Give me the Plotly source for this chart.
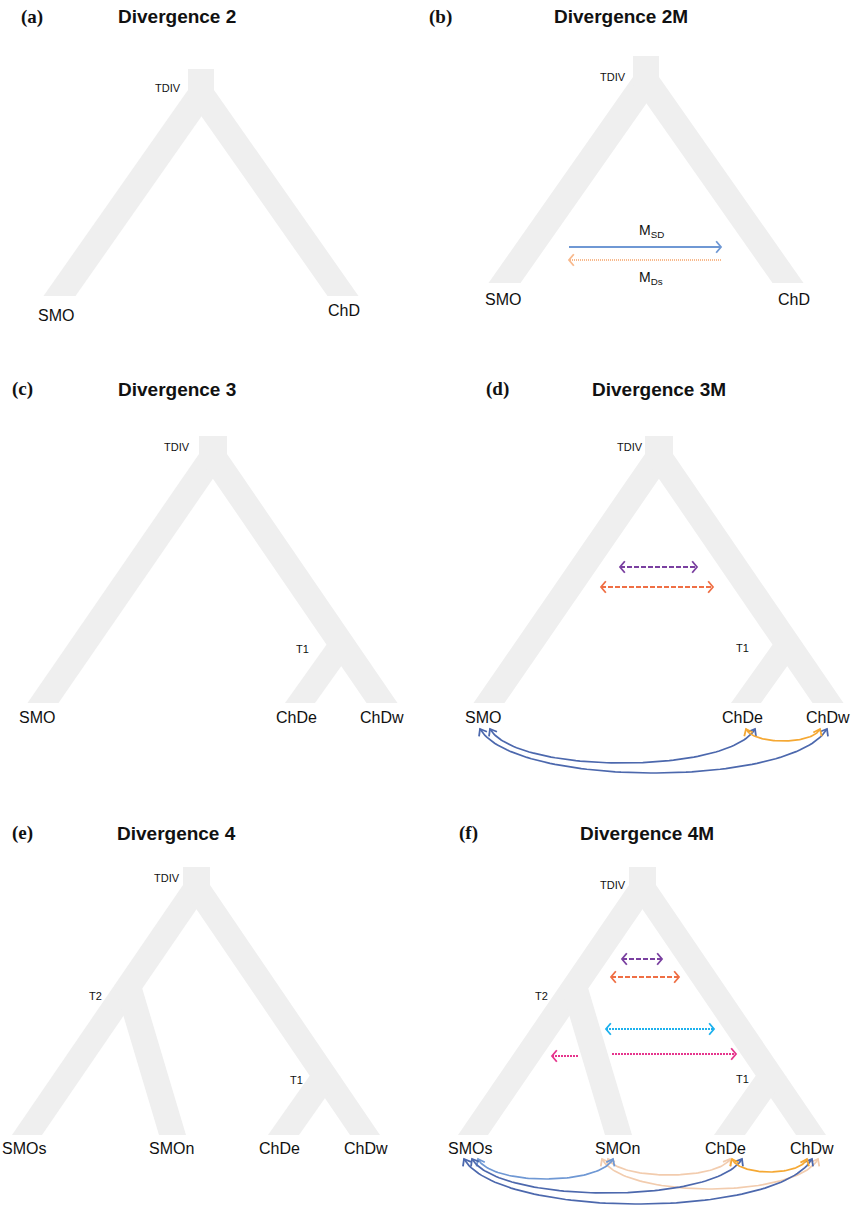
import numpy as np
import plotly.graph_objects as go

W, H = 852, 1206

# colours
TREE_FILL = "#efefef"
TEXT_COLOR = "#111111"
DARK_BLUE = "#4c68ad"
LIGHT_BLUE = "#6f98d4"
PEACH = "#f2ccae"
GOLD = "#f5a833"
PURPLE = "#7a40a0"
CORAL = "#ef6f45"
CYAN = "#1db1ee"
MAGENTA = "#e6358d"
APRICOT = "#f8b98c"

SANS = "Liberation Sans, Arial, sans-serif"
SERIF = "Liberation Serif, Times New Roman, serif"

# panel headings
PANEL_TAGS = ["(a)", "(b)", "(c)", "(d)", "(e)", "(f)"]
PANEL_TAG_X = [32, 440, 22, 497, 22, 468]
PANEL_TAG_Y = [17, 17, 389, 389, 833, 833]
PANEL_TITLES = ["Divergence 2", "Divergence 2M", "Divergence 3",
                "Divergence 3M", "Divergence 4", "Divergence 4M"]
PANEL_TITLE_X = [177, 621, 177, 659, 176, 647]
PANEL_TITLE_Y = [16, 16, 389, 389, 833, 833]

# which tree each panel shows, and where it is shifted to
PANEL_TREE = ["D2", "D2", "D3", "D3", "D4", "D4"]
PANEL_DX = [0, 445, 0, 446, 0, 446]
PANEL_DY = [0, -13, 0, 0, 0, 0]

# stems: centre x, top y, bottom y, width
STEM = {
    "D2": [201, 69, 90, 26],
    "D3": [213, 436, 454, 28],
    "D4": [196.5, 867, 885, 27],
}
# main branches leaving the stem: tip centre x, tip y, width
MAIN_TIP_X = {"D2": [59.5, 343], "D3": [43, 382], "D4": [27, 365]}
MAIN_TIP_Y = {"D2": [296, 296], "D3": [703, 703], "D4": [1135, 1135]}
MAIN_W = {"D2": [32, 31], "D3": [31, 31], "D4": [30, 30]}
# side branches: node x, node y, tip centre x, tip y, width
SIDE = {
    "D2": [],
    "D3": [[342, 644, 300, 703, 30]],
    "D4": [[128, 986, 172.5, 1135, 27], [325, 1076, 283.5, 1135, 31]],
}

# node / population labels per panel: text, x, y, font size
LABELS = [
    [("TDIV", 168, 88, 11), ("SMO", 56, 315, 16), ("ChD", 344, 310, 16)],
    [("TDIV", 613, 77, 11), ("SMO", 503, 299, 16), ("ChD", 794, 299, 16),
     ("M<sub>SD</sub>", 651, 231, 14), ("M<sub>Ds</sub>", 651, 278, 14)],
    [("TDIV", 177, 447, 11), ("T1", 302, 649, 11), ("SMO", 37, 717, 16),
     ("ChDe", 296, 717, 16), ("ChDw", 382, 717, 16)],
    [("TDIV", 630, 447, 11), ("T1", 742, 648, 11), ("SMO", 483, 717, 16),
     ("ChDe", 742, 717, 16), ("ChDw", 828, 717, 16)],
    [("TDIV", 167, 878, 11), ("T2", 95, 996, 11), ("T1", 296, 1080, 11),
     ("SMOs", 24, 1148, 16), ("SMOn", 171, 1148, 16),
     ("ChDe", 279, 1148, 16), ("ChDw", 366, 1148, 16)],
    [("TDIV", 613, 885, 11), ("T2", 541, 996, 11), ("T1", 742, 1079, 11),
     ("SMOs", 470, 1148, 16), ("SMOn", 617, 1148, 16),
     ("ChDe", 725, 1148, 16), ("ChDw", 812, 1148, 16)],
]

# straight migration arrows (head at x1, and at x0 too when two-way)
ARROW_X0 = [569, 721, 620, 601, 622, 611, 606, 578, 612]
ARROW_X1 = [721, 569, 697, 713, 662, 679, 714, 552, 736]
ARROW_Y = [247, 260, 567, 587, 959, 977, 1029, 1056, 1054]
ARROW_COLOR = [LIGHT_BLUE, APRICOT, PURPLE, CORAL, PURPLE, CORAL, CYAN, MAGENTA, MAGENTA]
ARROW_DASH = ["solid", "1px,1px", "5px,2px", "5px,2px", "5px,2px", "5px,2px",
              "2px,1px", "2px,1px", "2px,1px"]
ARROW_TWO_WAY = [False, False, True, True, True, True, True, False, False]

# curved gene-flow links below the tips: start x, end x, tip y, lowest y
CURVE_X0 = [608, 602, 490, 480, 746, 478, 472, 464, 732]
CURVE_X1 = [730, 818, 755, 827, 820, 613, 742, 812, 807]
CURVE_Y = [1159, 1159, 729, 729, 729, 1159, 1159, 1159, 1159]
CURVE_LOW = [1175, 1189, 763, 773, 741, 1179, 1193, 1204, 1172]
CURVE_COLOR = [PEACH, PEACH, DARK_BLUE, DARK_BLUE, GOLD, LIGHT_BLUE,
               DARK_BLUE, DARK_BLUE, GOLD]

fig = go.Figure()


def add_fill(xs, ys):
    fig.add_trace(go.Scatter(
        x=list(xs) + [xs[0]], y=list(ys) + [ys[0]], mode="lines",
        fill="toself", fillcolor=TREE_FILL, line=dict(width=0, color=TREE_FILL),
        hoverinfo="skip"))


def add_line(xs, ys, color, width=1.5, dash="solid"):
    fig.add_trace(go.Scatter(
        x=xs, y=ys, mode="lines", hoverinfo="skip",
        line=dict(color=color, width=width, dash=dash)))


def chevron(tip, direction, color, arm=7.0, half_angle=45.0, width=1.8):
    u = np.asarray(direction, float)
    u = u / np.hypot(*u)
    pts = []
    for s in (1, -1):
        a = np.radians(half_angle) * s
        r = np.array([u[0] * np.cos(a) - u[1] * np.sin(a),
                      u[0] * np.sin(a) + u[1] * np.cos(a)])
        pts.append(np.asarray(tip) - arm * r)
    add_line([pts[0][0], tip[0], pts[1][0]], [pts[0][1], tip[1], pts[1][1]],
             color, width)


def draw_tree(key, dx, dy):
    cx, top, bot, ws = STEM[key]
    cx += dx
    top += dy
    bot += dy
    add_fill([cx - ws / 2, cx + ws / 2, cx + ws / 2, cx - ws / 2], [top, top, bot, bot])
    for tx, ty, w in zip(MAIN_TIP_X[key], MAIN_TIP_Y[key], MAIN_W[key]):
        tx += dx
        ty += dy
        s = -1 if tx < cx else 1
        outer_top = np.array([cx + s * ws / 2, bot])
        outer_bot = np.array([tx + s * w / 2, ty])
        inner_bot = np.array([tx - s * w / 2, ty])
        d = outer_bot - outer_top
        other_x = cx - s * ws / 2
        clip_y = ty + (other_x - inner_bot[0]) * d[1] / d[0]
        xs = [outer_top[0], other_x, other_x, inner_bot[0], outer_bot[0]]
        ys = [bot, bot, clip_y, ty, ty]
        add_fill(xs, ys)
    for nx, ny, tx, ty, w in SIDE[key]:
        nx += dx
        ny += dy
        tx += dx
        ty += dy
        add_fill([nx - w / 2, nx + w / 2, tx + w / 2, tx - w / 2], [ny, ny, ty, ty])


for i in range(6):
    draw_tree(PANEL_TREE[i], PANEL_DX[i], PANEL_DY[i])

# straight arrows
for x0, x1, y, col, dash, both in zip(ARROW_X0, ARROW_X1, ARROW_Y, ARROW_COLOR,
                                      ARROW_DASH, ARROW_TWO_WAY):
    add_line([x0, x1], [y, y], col, 1.8, dash)
    sgn = 1 if x1 > x0 else -1
    chevron((x1, y), (sgn, 0), col, arm=7.5, half_angle=50)
    if both:
        chevron((x0, y), (-sgn, 0), col, arm=7.5, half_angle=50)

# curved links with heads at both ends
t = np.linspace(0, 1, 80)[:, None]
for x0, x1, y, low, col in zip(CURVE_X0, CURVE_X1, CURVE_Y, CURVE_LOW, CURVE_COLOR):
    span = x1 - x0
    yc = (low - 0.25 * y) / 0.75
    p0 = np.array([x0, y])
    p1 = np.array([x0 + 0.1 * span, yc])
    p2 = np.array([x1 - 0.1 * span, yc])
    p3 = np.array([x1, y])
    pts = ((1 - t) ** 3) * p0 + 3 * ((1 - t) ** 2) * t * p1 + 3 * (1 - t) * t ** 2 * p2 + t ** 3 * p3
    add_line(pts[:, 0], pts[:, 1], col, 1.7)
    chevron(p0, p0 - p1, col, arm=7.5, half_angle=38)
    chevron(p3, p3 - p2, col, arm=7.5, half_angle=38)

annotations = []
for tag, x, y in zip(PANEL_TAGS, PANEL_TAG_X, PANEL_TAG_Y):
    annotations.append(dict(x=x, y=y, text="<b>%s</b>" % tag, showarrow=False,
                            xanchor="center", yanchor="middle",
                            font=dict(family=SERIF, size=19, color=TEXT_COLOR)))
for title, x, y in zip(PANEL_TITLES, PANEL_TITLE_X, PANEL_TITLE_Y):
    annotations.append(dict(x=x, y=y, text="<b>%s</b>" % title, showarrow=False,
                            xanchor="center", yanchor="middle",
                            font=dict(family=SANS, size=19, color=TEXT_COLOR)))
for panel in LABELS:
    for text, x, y, size in panel:
        annotations.append(dict(x=x, y=y, text=text, showarrow=False,
                                xanchor="center", yanchor="middle",
                                font=dict(family=SANS, size=size, color=TEXT_COLOR)))

fig.update_layout(
    width=W, height=H, autosize=False,
    margin=dict(l=0, r=0, t=0, b=0, pad=0),
    paper_bgcolor="white", plot_bgcolor="white",
    showlegend=False,
    xaxis=dict(range=[0, W], visible=False, fixedrange=True),
    yaxis=dict(range=[H, 0], visible=False, fixedrange=True),
    annotations=annotations,
)

fig.write_html("out.html", config={"displayModeBar": False},
               post_script="document.body.style.margin='0';")
